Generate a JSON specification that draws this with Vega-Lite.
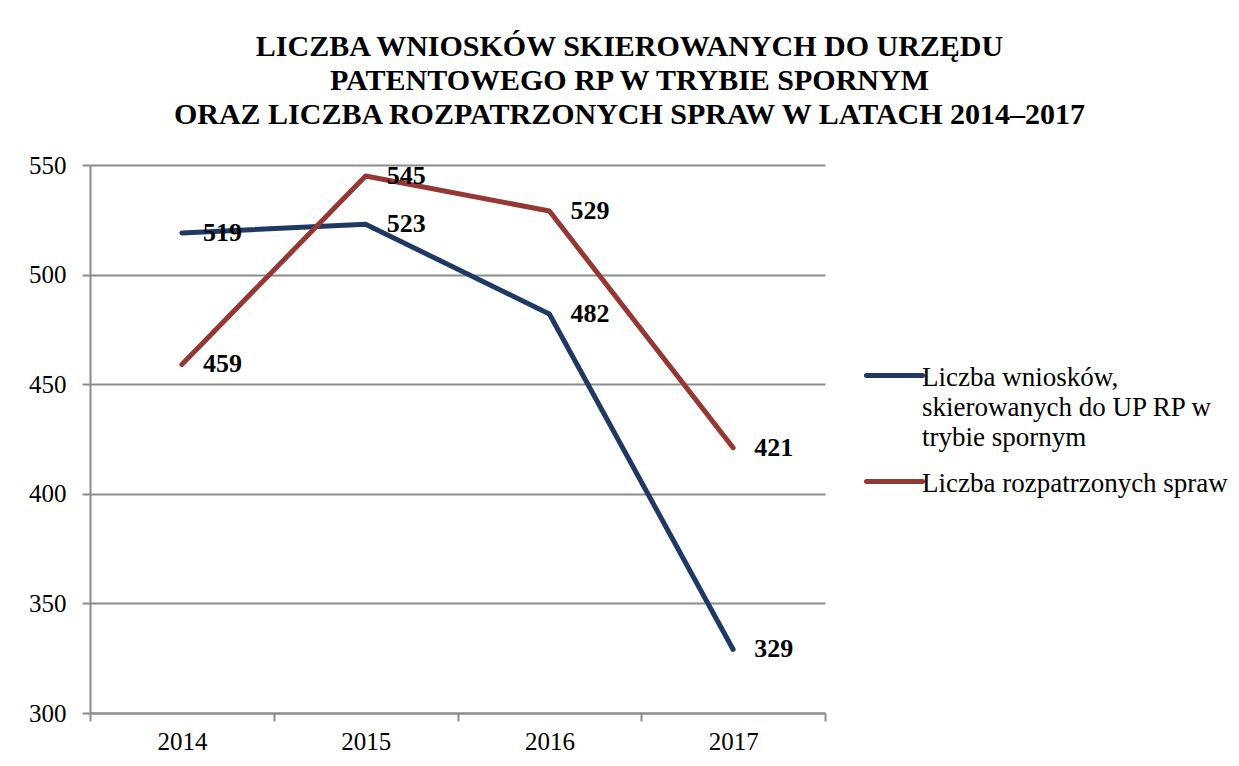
{
  "$schema": "https://vega.github.io/schema/vega-lite/v6.json",
  "width": 735,
  "height": 548,
  "autosize": {"type": "none"},
  "padding": {"left": 90, "top": 165, "right": 414, "bottom": 53},
  "background": "white",
  "title": {
    "text": ["LICZBA WNIOSKÓW SKIEROWANYCH DO URZĘDU", "PATENTOWEGO RP W TRYBIE SPORNYM", "ORAZ LICZBA ROZPATRZONYCH SPRAW W LATACH 2014–2017"],
    "font": "Liberation Serif",
    "fontSize": 30,
    "fontWeight": "bold",
    "color": "black",
    "anchor": "middle",
    "frame": "group",
    "dx": 172,
    "offset": 23,
    "lineHeight": 34
  },
  "config": {"view": {"stroke": null}, "font": "Liberation Serif", "text": {"font": "Liberation Serif"}},
  "data": {
    "values": [
      {"year": "2014", "series": "Liczba wniosków, skierowanych do UP RP w trybie spornym", "value": 519},
      {"year": "2015", "series": "Liczba wniosków, skierowanych do UP RP w trybie spornym", "value": 523},
      {"year": "2016", "series": "Liczba wniosków, skierowanych do UP RP w trybie spornym", "value": 482},
      {"year": "2017", "series": "Liczba wniosków, skierowanych do UP RP w trybie spornym", "value": 329},
      {"year": "2014", "series": "Liczba rozpatrzonych spraw", "value": 459},
      {"year": "2015", "series": "Liczba rozpatrzonych spraw", "value": 545},
      {"year": "2016", "series": "Liczba rozpatrzonych spraw", "value": 529},
      {"year": "2017", "series": "Liczba rozpatrzonych spraw", "value": 421}
    ]
  },
  "encoding": {
    "x": {
      "field": "year",
      "type": "ordinal",
      "scale": {"type": "band", "paddingInner": 0, "paddingOuter": 0},
      "axis": {
        "title": null,
        "labelAngle": 0,
        "labelFont": "Liberation Serif",
        "labelFontSize": 25,
        "labelColor": "black",
        "labelPadding": 8,
        "tickBand": "extent",
        "tickSize": 8,
        "tickColor": "#8c8c8c",
        "tickWidth": 2,
        "domainColor": "#8c8c8c",
        "domainWidth": 2,
        "grid": false
      }
    },
    "y": {
      "field": "value",
      "type": "quantitative",
      "scale": {"domain": [300, 550], "zero": false},
      "axis": {
        "title": null,
        "values": [300, 350, 400, 450, 500, 550],
        "labelFont": "Liberation Serif",
        "labelFontSize": 25,
        "labelColor": "black",
        "labelPadding": 16,
        "tickSize": 8,
        "tickColor": "#8c8c8c",
        "tickWidth": 2,
        "domainColor": "#8c8c8c",
        "domainWidth": 2,
        "grid": true,
        "gridColor": "#8c8c8c",
        "gridWidth": 2
      }
    }
  },
  "layer": [
    {
      "mark": {"type": "line", "strokeWidth": 5, "strokeCap": "round", "strokeJoin": "round"},
      "encoding": {
        "color": {
          "field": "series",
          "type": "nominal",
          "scale": {
            "domain": ["Liczba wniosków, skierowanych do UP RP w trybie spornym", "Liczba rozpatrzonych spraw"],
            "range": ["#1f3864", "#953735"]
          },
          "legend": {
            "title": null,
            "orient": "none",
            "legendX": 774,
            "legendY": 180,
            "symbolType": "stroke",
            "symbolSize": 3136,
            "symbolStrokeWidth": 5,
            "labelFont": "Liberation Serif",
            "labelFontSize": 27,
            "labelColor": "black",
            "labelLimit": 1000,
            "labelOffset": -3,
            "labelBaseline": "top",
            "rowPadding": -7,
            "labelExpr": "datum.label == 'Liczba rozpatrzonych spraw' ? datum.label : ['Liczba wniosków,', 'skierowanych do UP RP w', 'trybie spornym']",
            "encode": {
              "labels": {"update": {"dy": {"value": -11}, "lineHeight": {"value": 30}}},
              "symbols": {"update": {"strokeCap": {"value": "round"}}}
            }
          }
        }
      }
    },
    {
      "mark": {"type": "text", "align": "left", "baseline": "middle", "dx": 21, "fontSize": 26, "fontWeight": "bold", "color": "black", "font": "Liberation Serif"},
      "encoding": {
        "text": {"field": "value", "type": "quantitative"},
        "detail": {"field": "series"}
      }
    }
  ]
}
